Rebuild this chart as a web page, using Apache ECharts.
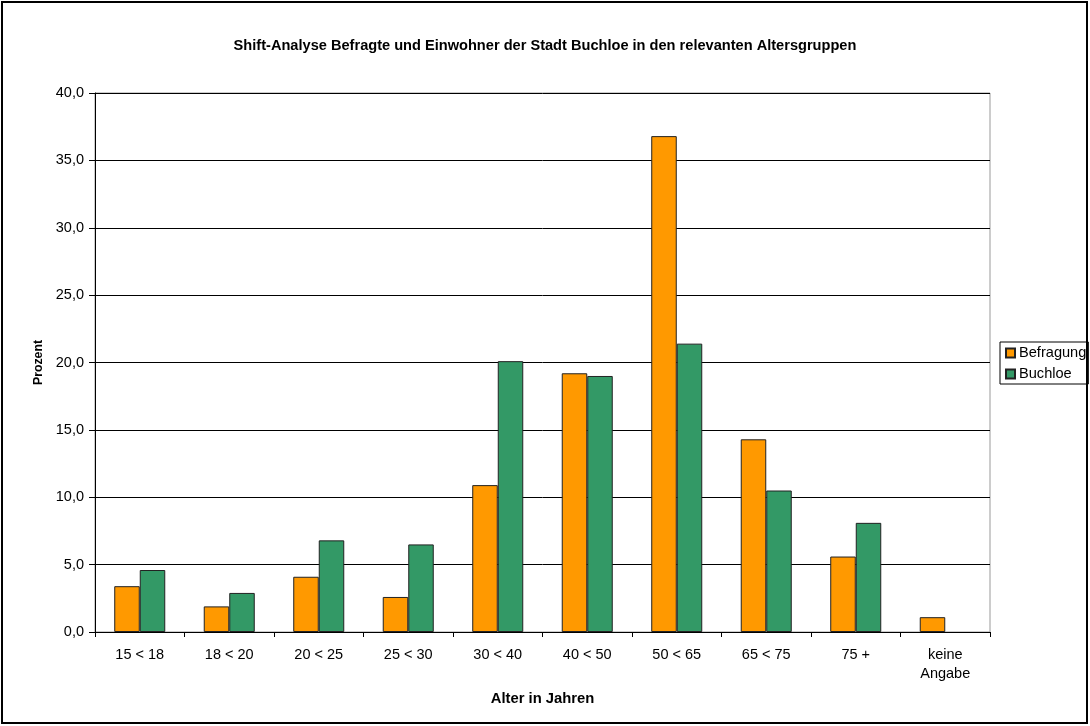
<!DOCTYPE html>
<html>
<head>
<meta charset="utf-8">
<script src="https://cdn.jsdelivr.net/npm/echarts@6/dist/echarts.min.js"></script>
<style>
  html, body { margin: 0; padding: 0; background: #fff; }
  #chart { width: 1090px; height: 726px; }
</style>
</head>
<body>
<div id="chart"></div>
<script>
// age groups and shares (percent)
const categories = ['15 < 18', '18 < 20', '20 < 25', '25 < 30', '30 < 40', '40 < 50', '50 < 65', '65 < 75', '75 +', 'keine\nAngabe'];
const befragung = [3.4, 1.9, 4.1, 2.6, 10.9, 19.2, 36.8, 14.3, 5.6, 1.1];
const buchloe = [4.6, 2.9, 6.8, 6.5, 20.1, 19.0, 21.4, 10.5, 8.1, null];
const yTicks = { min: 0, max: 40, interval: 5 };

const font = '"Liberation Sans", Arial, sans-serif';

const chart = echarts.init(document.getElementById('chart'));
chart.setOption({
  backgroundColor: '#fff',
  animation: false,
  textStyle: { fontFamily: font, color: '#000' },
  title: {
    text: 'Shift-Analyse Befragte und Einwohner der Stadt Buchloe in den relevanten Altersgruppen',
    left: 'center',
    top: 33,
    textStyle: { fontFamily: font, fontSize: 14.6, fontWeight: 'bold', color: '#000' },
  },
  graphic: [{
    type: 'rect',
    shape: { x: 2, y: 2, width: 1085, height: 721 },
    style: { fill: 'none', stroke: '#000', lineWidth: 2 },
    silent: true,
  }],
  legend: {
    orient: 'vertical',
    left: 1000,
    top: 342,
    icon: 'rect',
    itemWidth: 9,
    itemHeight: 9,
    itemGap: 5,
    padding: [3, 2, 2, 5],
    borderColor: '#000',
    borderWidth: 1,
    textStyle: { fontFamily: font, fontSize: 14.6, lineHeight: 16, color: '#000', padding: [0, 0, 0, -1] },
    data: ['Befragung', 'Buchloe'],
  },
  grid: {
    left: 95, right: 100, top: 93, bottom: 94,
    show: true,
    borderColor: '#999',
    borderWidth: 1,
  },
  xAxis: {
    type: 'category',
    data: categories,
    name: 'Alter in Jahren',
    nameLocation: 'middle',
    nameGap: 59,
    nameTextStyle: { fontFamily: font, fontSize: 14.8, fontWeight: 'bold', color: '#000' },
    axisLine: { lineStyle: { color: '#000', width: 1 } },
    axisTick: { show: true, length: 5, interval: 0, lineStyle: { color: '#000' } },
    axisLabel: { interval: 0, fontSize: 14.5, color: '#000', margin: 13, lineHeight: 19 },
  },
  yAxis: {
    type: 'value',
    min: yTicks.min,
    max: yTicks.max,
    interval: yTicks.interval,
    name: 'Prozent',
    nameLocation: 'middle',
    nameGap: 50,
    nameTextStyle: { fontFamily: font, fontSize: 12.3, fontWeight: 'bold', color: '#000' },
    axisLine: { show: true, lineStyle: { color: '#000', width: 1 } },
    axisTick: { show: true, length: 6, lineStyle: { color: '#000' } },
    axisLabel: {
      fontSize: 14.5, color: '#000', margin: 11,
      formatter: v => v.toFixed(1).replace('.', ','),
    },
    splitLine: { show: true, lineStyle: { color: '#000', width: 1 } },
  },
  series: [
    {
      name: 'Befragung',
      type: 'bar',
      data: befragung,
      barGap: '0%',
      barCategoryGap: '43%',
      itemStyle: { color: '#FF9900', borderColor: '#222', borderWidth: 1 },
    },
    {
      name: 'Buchloe',
      type: 'bar',
      data: buchloe,
      barGap: '0%',
      barCategoryGap: '43%',
      itemStyle: { color: '#339966', borderColor: '#222', borderWidth: 1 },
    },
  ],
});

window.addEventListener('resize', () => chart.resize());
</script>
</body>
</html>
